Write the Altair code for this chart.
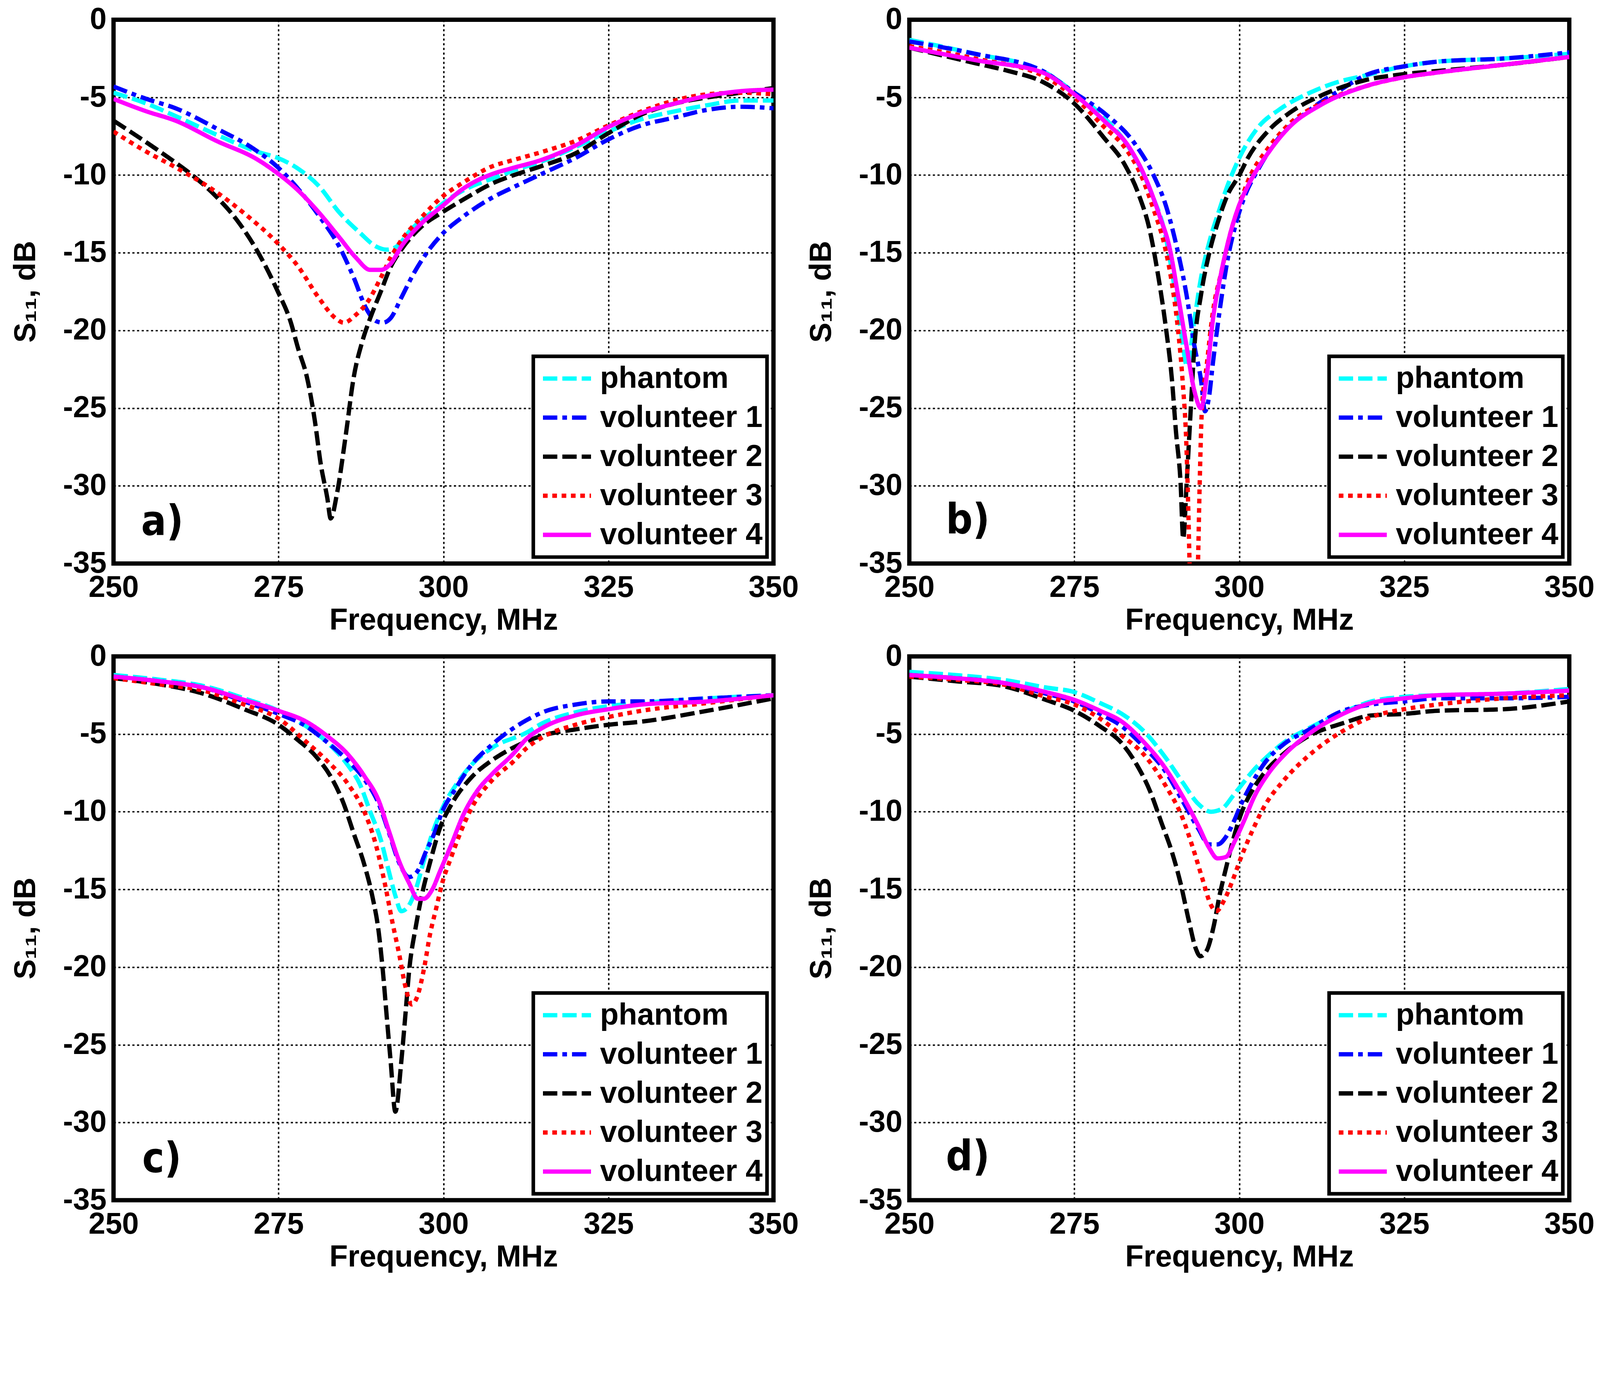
import altair as alt
import pandas as pd

# ---------------- data ----------------
FREQ_TICKS = [250, 275, 300, 325, 350]
DB_TICKS = [-35, -30, -25, -20, -15, -10, -5, 0]
SERIES = ["phantom", "volunteer 1", "volunteer 2", "volunteer 3", "volunteer 4"]
PANEL_LABELS = ["a)", "b)", "c)", "d)"]

# panel a
a_ph_f = [250, 255, 259.4, 265.6, 271.8, 274.9, 278, 281.1, 284.2, 287.3, 289.8, 291.4, 292.9, 295.1, 298.2, 301.3, 304.4, 307.6, 310, 315, 320, 325, 330, 335, 340, 345, 350]
a_ph_db = [-4.7, -5.4, -6.2, -7.4, -8.5, -8.9, -9.6, -10.7, -12.4, -13.7, -14.6, -14.8, -14.6, -13.5, -12.4, -11.4, -10.7, -10.2, -9.8, -9.1, -8.2, -7.2, -6.4, -5.9, -5.5, -5.2, -5.2]
a_v1_f = [250, 255, 259.4, 265.6, 271.2, 274.9, 278, 281.1, 284.2, 286.4, 288.3, 289.8, 290.8, 292, 293.6, 295.4, 297.3, 299.8, 302.9, 307.6, 310, 315, 320, 325, 330, 335, 340, 345, 350]
a_v1_db = [-4.3, -5.1, -5.7, -7.0, -8.3, -9.5, -10.9, -12.6, -14.6, -16.6, -18.6, -19.4, -19.5, -19.2, -17.9, -16.4, -15.1, -13.8, -12.7, -11.4, -10.9, -9.9, -8.9, -7.7, -6.8, -6.3, -5.8, -5.6, -5.7]
a_v2_f = [250, 255, 259.4, 262.5, 265.6, 268.7, 271.8, 274.9, 276.8, 278, 279.3, 280.5, 281.4, 282.4, 282.9, 283.9, 285.2, 286.4, 287.7, 288.9, 290.5, 292, 293.6, 296.7, 299.8, 302.9, 307.6, 310, 315, 320, 325, 330, 335, 340, 345, 350]
a_v2_db = [-6.5, -7.9, -9.2, -10.2, -11.4, -12.9, -14.9, -17.5, -19.4, -21.2, -23.0, -25.8, -28.6, -30.8, -32.1, -30.4, -26.7, -23.0, -20.7, -19.2, -17.5, -15.9, -14.8, -13.3, -12.4, -11.6, -10.5, -10.1, -9.4, -8.6, -7.3, -6.1, -5.4, -5.0, -4.7, -4.4]
a_v3_f = [250, 255, 259.4, 265.6, 270.2, 274.9, 278, 281.1, 283.6, 284.9, 286.7, 288.6, 290.5, 292, 293.6, 296.7, 299.8, 302.9, 307.6, 310, 315, 320, 325, 330, 335, 340, 345, 350]
a_v3_db = [-7.2, -8.5, -9.5, -11.1, -12.6, -14.4, -15.9, -17.9, -19.2, -19.5, -19.0, -18.1, -16.6, -15.3, -14.2, -12.7, -11.4, -10.5, -9.4, -9.1, -8.5, -7.8, -6.8, -5.9, -5.2, -4.8, -4.7, -4.8]
a_v4_f = [250, 255, 259.4, 265.6, 271.8, 274.9, 278, 281.1, 284.2, 286.7, 288.9, 290.5, 292, 293.6, 296.7, 299.8, 302.9, 307.6, 310, 315, 320, 325, 330, 335, 340, 345, 350]
a_v4_db = [-5.1, -5.9, -6.5, -7.8, -9.0, -9.9, -11.0, -12.4, -14.0, -15.3, -16.1, -16.1, -15.7, -14.6, -13.1, -12.0, -10.9, -9.9, -9.6, -9.0, -8.1, -6.9, -6.0, -5.4, -4.9, -4.6, -4.5]

# panel b
b_ph_f = [250, 260, 270.2, 275, 279.5, 282.6, 285.1, 287, 288.6, 289.8, 291.1, 292.1, 293.2, 294.2, 295.4, 297, 298.2, 300, 302.9, 306, 310.7, 315, 319, 325, 330, 340, 350]
b_ph_db = [-1.3, -2.2, -3.3, -4.7, -6.3, -7.8, -9.6, -11.5, -13.5, -16.2, -19.9, -22.3, -19.3, -16.6, -14.4, -12.2, -10.7, -8.9, -6.9, -5.8, -4.7, -4.0, -3.6, -3.0, -2.7, -2.5, -2.2]
b_v1_f = [250, 260, 270.2, 275, 279.5, 284.2, 287, 288.9, 290.4, 292, 293.2, 294.2, 294.8, 295.4, 296, 297, 298.2, 299.5, 300.7, 302.9, 306, 310.7, 315.4, 319, 325, 330, 340, 350]
b_v1_db = [-1.4, -2.2, -3.3, -4.7, -6.0, -8.0, -10.0, -12.0, -14.4, -17.7, -21.0, -23.2, -25.2, -24.3, -22.1, -18.8, -15.5, -13.1, -11.5, -9.6, -7.6, -5.8, -4.5, -3.6, -3.0, -2.7, -2.5, -2.1]
b_v2_f = [250, 260, 265, 270.2, 275, 279.5, 282.6, 284.8, 286.4, 287.6, 288.9, 289.8, 290.4, 291.1, 291.5, 292, 292.6, 293.2, 294.2, 295.4, 296.7, 298.2, 300, 301.3, 304.5, 307.6, 312.3, 319, 325, 330, 340, 350]
b_v2_db = [-1.8, -2.8, -3.3, -4.0, -5.4, -7.6, -9.3, -11.3, -13.5, -16.2, -19.9, -23.2, -26.5, -29.8, -33.4, -30.0, -25.4, -21.0, -17.7, -15.1, -13.1, -11.3, -10.0, -8.9, -7.1, -6.0, -4.9, -3.9, -3.5, -3.3, -2.9, -2.4]
b_v3_f = [250, 260, 270.2, 275, 279.5, 282.6, 285.1, 287, 288.6, 289.8, 290.7, 291.4, 292, 292.3, 292.5, 293.1, 293.7, 294, 294.3, 295.1, 296, 297.3, 298.8, 300.1, 301.3, 304.5, 307.6, 312.3, 319, 325, 330, 340, 350]
b_v3_db = [-1.7, -2.5, -3.6, -5.0, -6.9, -8.2, -10.0, -12.2, -14.4, -17.0, -19.9, -23.2, -27.6, -32.0, -35.5, -39.0, -35.5, -29.8, -25.4, -22.1, -18.8, -16.2, -13.5, -11.8, -10.4, -8.2, -6.7, -5.4, -4.3, -3.7, -3.4, -2.9, -2.4]
b_v4_f = [250, 260, 270.2, 275, 279.5, 283.3, 285.8, 287.9, 289.5, 290.7, 292, 293.2, 294.2, 295.1, 296, 297.3, 298.8, 300.1, 301.3, 304.5, 307.6, 312.3, 319, 325, 330, 340, 350]
b_v4_db = [-1.8, -2.6, -3.4, -4.8, -6.5, -8.2, -10.2, -12.6, -14.8, -17.7, -21.0, -23.9, -25.0, -22.8, -19.3, -16.2, -13.5, -11.8, -10.7, -8.5, -6.9, -5.5, -4.3, -3.7, -3.4, -2.9, -2.4]

# panel c
c_ph_f = [250, 257, 263.6, 269.8, 275, 279.2, 282.3, 285.5, 287.3, 288.9, 290.5, 291.7, 292.7, 293.6, 294.8, 295.8, 297, 298.3, 299.8, 302, 304.2, 307.3, 312.6, 315, 320, 325, 330, 340, 350]
c_ph_db = [-1.2, -1.5, -1.9, -2.7, -3.5, -4.5, -5.5, -7.0, -8.2, -10.0, -11.8, -13.8, -15.4, -16.4, -16.0, -15.0, -13.2, -11.4, -9.8, -8.2, -7.0, -5.9, -4.9, -4.3, -3.6, -3.2, -3.0, -2.7, -2.5]
c_v1_f = [250, 257, 263.6, 269.8, 275, 279.2, 282.3, 285.5, 288, 290.2, 291.7, 293.3, 294.8, 296.1, 297.3, 298.6, 299.8, 301.7, 304.2, 307.3, 312.6, 315, 320, 325, 330, 340, 350]
c_v1_db = [-1.3, -1.6, -2.0, -2.9, -3.7, -4.5, -5.5, -6.7, -7.9, -9.5, -11.3, -13.3, -14.2, -13.8, -12.6, -11.4, -10.0, -8.6, -7.0, -5.7, -4.1, -3.6, -3.1, -2.9, -2.9, -2.7, -2.5]
c_v2_f = [250, 257, 263.6, 269.8, 275, 277.7, 280.8, 283, 284.8, 286.4, 288, 289.2, 290.2, 290.8, 291.4, 292, 292.7, 293.6, 294.2, 294.8, 295.8, 296.7, 298, 299.5, 301.1, 304.2, 307.3, 310, 315, 320, 325, 330, 340, 350]
c_v2_db = [-1.4, -1.8, -2.4, -3.4, -4.4, -5.3, -6.5, -7.8, -9.4, -11.4, -13.4, -15.4, -17.8, -20.2, -23.2, -26.1, -29.3, -26.1, -23.2, -20.2, -17.4, -15.4, -13.2, -11.0, -9.6, -7.8, -6.7, -6.0, -5.1, -4.7, -4.4, -4.2, -3.5, -2.7]
c_v3_f = [250, 257, 263.6, 269.8, 275, 279.2, 282.3, 285.5, 288, 289.8, 291.1, 292.3, 293.3, 294.2, 295.2, 296.1, 297, 298, 298.9, 299.8, 301.1, 302.7, 304.2, 307.3, 310.5, 312.6, 315, 320, 325, 330, 340, 350]
c_v3_db = [-1.4, -1.8, -2.2, -3.1, -4.0, -5.5, -6.7, -8.2, -10.0, -12.2, -14.6, -17.2, -19.2, -21.2, -22.4, -21.8, -20.2, -17.8, -16.2, -14.6, -13.0, -11.2, -9.8, -8.0, -6.8, -5.9, -5.2, -4.4, -3.9, -3.5, -3.0, -2.5]
c_v4_f = [250, 257, 263.6, 269.8, 275, 279.2, 282.3, 285.5, 288, 290.2, 291.7, 293.3, 294.8, 296.1, 297, 298.3, 299.5, 301.1, 303, 305.2, 307.3, 310.5, 312.6, 315, 320, 325, 330, 340, 350]
c_v4_db = [-1.3, -1.6, -2.0, -2.8, -3.5, -4.2, -5.1, -6.3, -7.7, -9.3, -11.2, -13.2, -14.6, -15.6, -15.6, -15.0, -13.8, -12.2, -10.2, -8.6, -7.6, -6.3, -5.3, -4.6, -3.8, -3.4, -3.1, -2.9, -2.5]

# panel d
d_ph_f = [250, 257, 264.1, 270.7, 275, 278.9, 282.2, 285.5, 288.8, 291.4, 293.8, 295.7, 297.4, 299, 300.3, 302, 303.6, 306.9, 310.2, 315.7, 320, 325, 330, 340, 350]
d_ph_db = [-1.0, -1.2, -1.5, -2.0, -2.3, -3.0, -3.7, -4.8, -6.5, -8.1, -9.5, -10.0, -9.8, -9.0, -8.3, -7.4, -6.7, -5.5, -4.7, -3.6, -2.9, -2.6, -2.5, -2.4, -2.1]
d_v1_f = [250, 257, 264.1, 270.7, 275, 278.9, 282.2, 285.5, 288.8, 291.4, 293.8, 295.4, 296.7, 298, 299.3, 300.3, 302, 303.6, 306.9, 310.2, 315.7, 320, 325, 330, 340, 350]
d_v1_db = [-1.2, -1.4, -1.7, -2.4, -2.9, -3.7, -4.5, -5.8, -7.4, -9.3, -11.1, -12.1, -12.1, -11.6, -10.5, -9.5, -8.1, -7.0, -5.6, -4.8, -3.5, -3.1, -2.9, -2.7, -2.7, -2.6]
d_v2_f = [250, 257, 264.1, 270.7, 275, 278.9, 282.2, 284.5, 286.5, 288.2, 289.8, 291.1, 292.4, 293.4, 294.1, 295.1, 296.1, 297, 298, 299, 300.3, 302, 303.6, 306.9, 310.2, 315.7, 320, 325, 330, 340, 350]
d_v2_db = [-1.3, -1.6, -1.9, -2.8, -3.5, -4.5, -5.6, -7.0, -8.7, -10.7, -12.6, -14.6, -17.1, -18.8, -19.3, -18.9, -17.4, -15.4, -13.6, -11.9, -10.1, -8.6, -7.6, -6.2, -5.2, -4.3, -3.8, -3.7, -3.5, -3.4, -2.9]
d_v3_f = [250, 257, 264.1, 270.7, 275, 278.9, 282.2, 285.5, 288.8, 291.4, 293.1, 294.4, 295.7, 296.5, 297.7, 299, 300.3, 302, 303.6, 306.9, 310.2, 315.7, 320, 325, 330, 340, 350]
d_v3_db = [-1.3, -1.5, -1.8, -2.6, -3.1, -4.0, -5.1, -6.3, -8.3, -10.4, -12.5, -14.3, -16.0, -16.4, -15.7, -14.4, -12.9, -11.2, -9.8, -7.9, -6.5, -4.8, -3.9, -3.4, -3.1, -2.7, -2.5]
d_v4_f = [250, 257, 264.1, 270.7, 275, 278.9, 282.2, 285.5, 288.8, 291.4, 293.8, 295.4, 296.7, 298, 299.3, 300.7, 302.3, 304.3, 306.9, 310.2, 315.7, 320, 325, 330, 340, 350]
d_v4_db = [-1.2, -1.4, -1.7, -2.3, -2.8, -3.5, -4.2, -5.5, -7.2, -9.0, -10.9, -12.3, -13.0, -12.9, -11.9, -10.6, -9.0, -7.6, -6.3, -5.1, -3.7, -3.0, -2.7, -2.5, -2.4, -2.2]

PANELS = {
    "a": [(a_ph_f, a_ph_db), (a_v1_f, a_v1_db), (a_v2_f, a_v2_db), (a_v3_f, a_v3_db), (a_v4_f, a_v4_db)],
    "b": [(b_ph_f, b_ph_db), (b_v1_f, b_v1_db), (b_v2_f, b_v2_db), (b_v3_f, b_v3_db), (b_v4_f, b_v4_db)],
    "c": [(c_ph_f, c_ph_db), (c_v1_f, c_v1_db), (c_v2_f, c_v2_db), (c_v3_f, c_v3_db), (c_v4_f, c_v4_db)],
    "d": [(d_ph_f, d_ph_db), (d_v1_f, d_v1_db), (d_v2_f, d_v2_db), (d_v3_f, d_v3_db), (d_v4_f, d_v4_db)],
}

# ---------------- styling ----------------
COLORS = ["#00ffff", "#0000ff", "#000000", "#ff0000", "#ff00ff"]
DASHES = [[40, 14], [40, 14, 13, 14], [40, 14], [13, 13], [1, 0]]
W, H = 1841, 1517
FONT = "Liberation Sans"
LABEL_FONT = "DejaVu Sans Condensed, DejaVu Sans"
LABEL_POS = {"a": (77, 1437), "b": (102, 1433), "c": (80, 1438), "d": (102, 1433)}


def make_legend():
    return alt.Legend(
        title=None, orient="bottom-right", offset=18,
        symbolType="stroke", symbolSize=17956, symbolStrokeWidth=12,
        clipHeight=100, rowPadding=9, padding=12,
        symbolOffset=9, labelOffset=19,
        labelFont=FONT, labelFontSize=85, labelFontWeight="bold",
        labelColor="black", labelLimit=2000,
        strokeColor="black", fillColor="white",
    )


def panel(key, label):
    rows = []
    for name, (fs, dbs) in zip(SERIES, PANELS[key]):
        for f, v in zip(fs, dbs):
            rows.append({"series": name, "freq": f, "s11": v})
    df = pd.DataFrame(rows)

    lines = alt.Chart(df).mark_line(
        strokeWidth=12, clip=True, interpolate="monotone"
    ).encode(
        x=alt.X("freq:Q",
                scale=alt.Scale(domain=[250, 350], nice=False, zero=False),
                axis=alt.Axis(values=FREQ_TICKS, title="Frequency, MHz",
                              titleY=184, titleBaseline="alphabetic",
                              labelPadding=27,
                              labelFlush=False, labelOverlap=False,
                              labelExpr="toString(datum.value)")),
        y=alt.Y("s11:Q",
                scale=alt.Scale(domain=[-35, 0], nice=False, zero=False),
                axis=alt.Axis(values=DB_TICKS, title="S\u2081\u2081, dB",
                              titleX=-219, titleY=H / 2, titleBaseline="alphabetic",
                              labelOverlap=False,
                              labelExpr="toString(datum.value)")),
        color=alt.Color("series:N",
                        scale=alt.Scale(domain=SERIES, range=COLORS),
                        legend=make_legend()),
        strokeDash=alt.StrokeDash("series:N",
                                  scale=alt.Scale(domain=SERIES, range=DASHES),
                                  legend=make_legend()),
    )

    lx, ly = LABEL_POS[key]
    text = alt.Chart(pd.DataFrame({"label": [label]})).mark_text(
        font=LABEL_FONT, fontSize=116, fontWeight="bold", color="black",
        align="left", baseline="alphabetic"
    ).encode(x=alt.value(lx), y=alt.value(ly), text="label:N")

    return alt.layer(lines, text).properties(width=W, height=H)


charts = [panel(k, lab) for k, lab in zip(["a", "b", "c", "d"], PANEL_LABELS)]

chart = alt.concat(
    *charts, columns=2, spacing={"row": 259, "column": 379}, bounds="flush"
).resolve_scale(
    color="independent", strokeDash="independent"
).properties(
    padding={"left": 16, "top": -154, "right": 0, "bottom": 0}
).configure_view(
    stroke="black", strokeWidth=12
).configure_axis(
    domain=False, ticks=False, tickSize=0, grid=True,
    gridColor="black", gridDash=[6, 7], gridWidth=4, gridOpacity=1,
    labelFont=FONT, labelFontSize=84, labelFontWeight="bold",
    labelColor="black", labelPadding=20,
    titleFont=FONT, titleFontSize=84, titleFontWeight="bold", titleColor="black",
).configure_legend(
    strokeWidth=10
)

chart.save("out.html", embed_options={"renderer": "svg", "actions": False})
